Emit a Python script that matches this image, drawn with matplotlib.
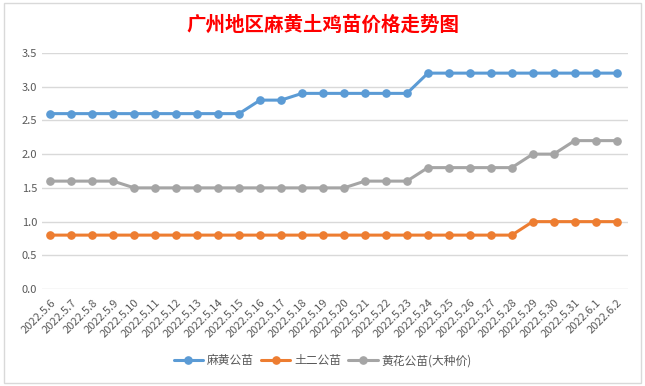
import matplotlib as mpl

mpl.use("Agg")
import matplotlib.pyplot as plt
from matplotlib.patches import Rectangle

plt.rcParams["font.family"] = ["Noto Sans CJK SC", "DejaVu Sans"]

# Dates and prices (yuan per chick)
dates = [
    "2022.5.6", "2022.5.7", "2022.5.8", "2022.5.9", "2022.5.10", "2022.5.11",
    "2022.5.12", "2022.5.13", "2022.5.14", "2022.5.15", "2022.5.16", "2022.5.17",
    "2022.5.18", "2022.5.19", "2022.5.20", "2022.5.21", "2022.5.22", "2022.5.23",
    "2022.5.24", "2022.5.25", "2022.5.26", "2022.5.27", "2022.5.28", "2022.5.29",
    "2022.5.30", "2022.5.31", "2022.6.1", "2022.6.2",
]
mahuang = [2.6] * 10 + [2.8, 2.8] + [2.9] * 6 + [3.2] * 10
tuer = [0.8] * 23 + [1.0] * 5
huanghua = [1.6] * 4 + [1.5] * 11 + [1.6] * 3 + [1.8] * 5 + [2.0, 2.0] + [2.2] * 3

series = [
    ("麻黄公苗", mahuang, "#5B9BD5"),
    ("土二公苗", tuer, "#ED7D31"),
    ("黄花公苗(大种价)", huanghua, "#A5A5A5"),
]

fig = plt.figure(figsize=(6.45, 3.86), dpi=100)
ax = fig.add_axes([0.065, 0.251, 0.909, 0.612])

x = range(len(dates))
for name, vals, color in series:
    ax.plot(x, vals, color=color, linewidth=2.2, marker="o", markersize=5.2,
            label=name, solid_capstyle="round")

ax.set_xlim(-0.4, len(dates) - 0.45)
ax.set_ylim(0, 3.5)
ax.set_yticks([0, 0.5, 1.0, 1.5, 2.0, 2.5, 3.0, 3.5])
ax.set_yticklabels([f"{v:.1f}" for v in ax.get_yticks()])
ax.set_xticks(list(x))
ax.set_xticklabels(dates, rotation=45, ha="right", rotation_mode="anchor")
ax.tick_params(axis="both", length=0, labelsize=8, colors="#595959")
ax.tick_params(axis="x", pad=6)
ax.yaxis.grid(True, color="#D9D9D9", linewidth=1)
ax.set_axisbelow(True)
for s in ax.spines.values():
    s.set_visible(False)

fig.text(0.5, 0.935, "广州地区麻黄土鸡苗价格走势图", color="#FF0000",
         fontsize=14, fontweight="bold", ha="center", va="center")

fig.legend(loc="center", bbox_to_anchor=(0.5, 0.065), ncol=3, frameon=False,
           fontsize=8.5, labelcolor="#595959", handlelength=2.5, columnspacing=0.6,
           handletextpad=0.3)

# chart frame
fig.patches.append(Rectangle((0.006, 0.008), 0.988, 0.984, transform=fig.transFigure,
                             fill=False, edgecolor="#D9D9D9", linewidth=1))

plt.savefig("out.png", dpi=100)
